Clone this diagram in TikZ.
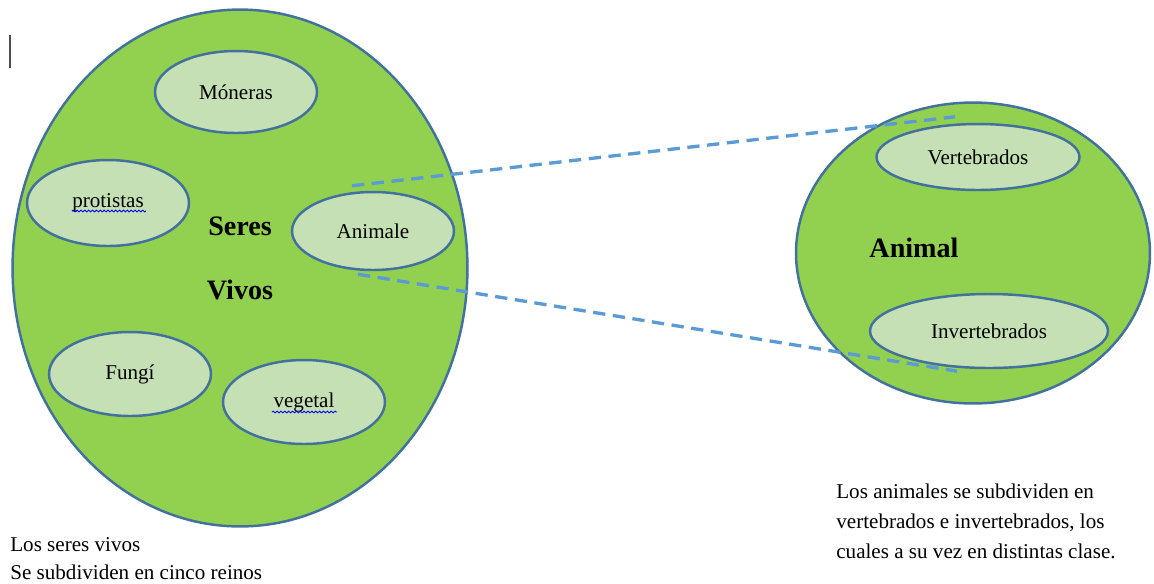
\documentclass[tikz,border=0pt]{standalone}
\usepackage{fontspec}
\setmainfont{Liberation Serif}
\usetikzlibrary{shapes.geometric, decorations.pathmorphing}

\definecolor{verdefuerte}{HTML}{92D050}
\definecolor{verdeclaro}{HTML}{C5E0B4}
\definecolor{bordeazul}{HTML}{41719C}
\definecolor{lineaazul}{HTML}{5B9BD5}

\begin{document}
\begin{tikzpicture}[x=0.02cm, y=-0.02cm]
  \useasboundingbox (0,0) rectangle (1154,583);
  \tikzstyle{grupo}=[ellipse, draw=bordeazul, line width=1.4pt, fill=verdefuerte]
  \tikzstyle{reino}=[ellipse, draw=bordeazul, line width=1.4pt, fill=verdeclaro, minimum width=3.24cm, minimum height=1.64cm, inner sep=0pt, font=\fontsize{12}{14}\selectfont]
  \tikzstyle{titulo}=[inner sep=0pt, font=\fontsize{16}{19}\selectfont\bfseries]
  \tikzstyle{nota}=[anchor=north west, inner sep=0pt, align=left, font=\fontsize{12}{16}\selectfont]
  \tikzstyle{enlace}=[draw=lineaazul, line width=1.9pt, dash pattern=on 7pt off 4.3pt]
  \tikzstyle{ortografia}=[draw=blue, line width=0.5pt, decorate, decoration={snake, amplitude=0.5pt, segment length=2.2pt}]

  % text cursor
  \coordinate (c1) at (10,35);
  \coordinate (c2) at (10,68);
  \draw[gray!60!black, line width=0.6pt] (c1) -- (c2);

  \node[grupo, minimum width=9.1cm,  minimum height=10.34cm] (seres)  at (240,268) {};
  \node[grupo, minimum width=7.08cm, minimum height=6.02cm]  (animal) at (973,253) {};

  \node[reino]                        (moneras)   at (236,92)  {Móneras};
  \node[reino, minimum height=1.72cm] (protistas) at (108,203) {protistas};
  \node[reino, minimum height=1.56cm] (animale)   at (373,231) {Animale};
  \node[reino, minimum height=1.68cm] (fungi)     at (130,374) {Fungí};
  \node[reino, minimum height=1.68cm] (vegetal)   at (304,402) {vegetal};

  \node[reino, minimum width=4.06cm, minimum height=1.32cm] (verte)   at (978,157) {Vertebrados};
  \node[reino, minimum width=4.76cm, minimum height=1.48cm] (inverte) at (989,331) {Invertebrados};

  % spell-check marks
  \coordinate (p1) at ([shift={(-36,8)}]protistas.center);
  \coordinate (p2) at ([shift={(38,8)}]protistas.center);
  \coordinate (v1) at ([shift={(-32,10)}]vegetal.center);
  \coordinate (v2) at ([shift={(33,10)}]vegetal.center);
  \draw[ortografia] (p1) -- (p2);
  \draw[ortografia] (v1) -- (v2);

  \node[titulo] (seres1)  at (240,226) {Seres};
  \node[titulo] (seres2)  at (240,290) {Vivos};
  \node[titulo] (animal1) at (914,248) {Animal};

  \coordinate (a1) at ([shift={(-21,-5)}]animale.north);
  \coordinate (a2) at ([shift={(-23,-6)}]verte.north);
  \coordinate (b1) at ([shift={(-15,3)}]animale.south);
  \coordinate (b2) at ([shift={(-32,2)}]inverte.south);
  \path (a1) edge[enlace] (a2);
  \path (b1) edge[enlace] (b2);

  \node[nota] (nota1) at (10,537) {Los seres vivos\\Se subdividen en cinco reinos};
  \node[nota, font=\fontsize{12}{17}\selectfont] (nota2) at (836,484)
    {Los animales se subdividen en\\vertebrados e invertebrados, los\\cuales a su vez en distintas clase.};
\end{tikzpicture}
\end{document}
